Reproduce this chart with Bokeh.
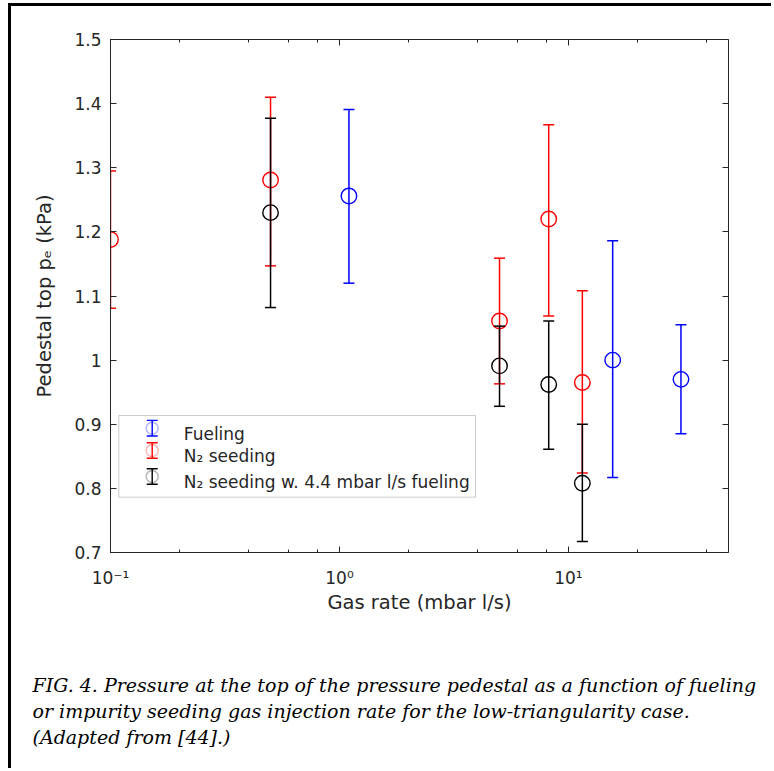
from bokeh.plotting import figure
from bokeh.layouts import column
from bokeh.models import (ColumnDataSource, Whisker, TeeHead, LogAxis, LinearAxis,
                          LogTicker, FixedTicker, CustomJSTickFormatter, Label,
                          BoxAnnotation, Range1d, Title)
from bokeh.embed import file_html
from bokeh.resources import INLINE

# ---------------- data ----------------
fuel_rate = [1.1, 15.6, 31.0]
fuel_pe = [1.256, 1.000, 0.970]
fuel_lo = [1.120, 0.817, 0.885]
fuel_hi = [1.391, 1.186, 1.055]

n2_rate = [0.1, 0.5, 5.0, 8.2, 11.5]
n2_pe = [1.188, 1.281, 1.061, 1.220, 0.965]
n2_lo = [1.081, 1.147, 0.963, 1.069, 0.824]
n2_hi = [1.295, 1.410, 1.159, 1.367, 1.108]

n2f_rate = [0.5, 5.0, 8.2, 11.5]
n2f_pe = [1.230, 0.991, 0.962, 0.808]
n2f_lo = [1.082, 0.928, 0.861, 0.717]
n2f_hi = [1.377, 1.053, 1.061, 0.900]

y_ticks = [0.7, 0.8, 0.9, 1.0, 1.1, 1.2, 1.3, 1.4, 1.5]
series_names = ["Fueling", "N\u2082 seeding", "N\u2082 seeding w. 4.4 mbar l/s fueling"]
series_colors = ["#0000ff", "#ff0000", "#000000"]
x_label = "Gas rate (mbar l/s)"
y_label = "Pedestal top p\u2091 (kPa)"
caption_lines = [
    "FIG. 4. Pressure at the top of the pressure pedestal as a function of fueling",
    "or impurity seeding gas injection rate for the low-triangularity case.",
    "(Adapted from [44].)",
]

AX = "#262626"
FONT = "DejaVu Sans"
OX, OY = 11, 6   # canvas origin offset inside the page (margin + frame border)
P_H = 622        # height of the chart figure
CAP_H = 120      # height of the caption figure

p = figure(width=760, height=P_H, x_axis_type="log",
           x_range=Range1d(0.1, 50), y_range=Range1d(0.7, 1.5),
           output_backend="svg", toolbar_location=None,
           min_border_left=99, min_border_right=43,
           min_border_top=33, min_border_bottom=76)
p.outline_line_color = None
p.xgrid.visible = False
p.ygrid.visible = False
p.background_fill_color = "white"
p.border_fill_color = "white"

xt = LogTicker()
yt = FixedTicker(ticks=y_ticks)

xfmt = CustomJSTickFormatter(code="""
const e = Math.round(Math.log10(tick));
const sup = {'-':'\u207b','0':'\u2070','1':'\u00b9','2':'\u00b2','3':'\u00b3','4':'\u2074','5':'\u2075','6':'\u2076','7':'\u2077','8':'\u2078','9':'\u2079'};
return '10' + String(e).split('').map(c => sup[c]).join('');
""")
yfmt = CustomJSTickFormatter(code="return (Math.round(tick*10)/10).toString();")
blank = CustomJSTickFormatter(code="return '';")


def style_axis(ax):
    ax.axis_line_color = AX
    ax.axis_line_width = 1
    ax.major_tick_line_color = AX
    ax.minor_tick_line_color = AX
    ax.major_tick_in = 6
    ax.major_tick_out = 0
    ax.minor_tick_in = 3
    ax.minor_tick_out = 0
    ax.major_label_text_font = FONT
    ax.major_label_text_font_size = "17px"
    ax.major_label_text_color = AX
    ax.axis_label_text_font = FONT
    ax.axis_label_text_font_size = "19.5px"
    ax.axis_label_text_font_style = "normal"
    ax.axis_label_text_color = AX


xa = p.xaxis[0]
xa.ticker = xt
xa.formatter = xfmt
xa.axis_label = x_label
style_axis(xa)
xa.major_label_standoff = 15
xa.axis_label_standoff = 0

ya = p.yaxis[0]
ya.ticker = yt
ya.formatter = yfmt
ya.axis_label = y_label
style_axis(ya)
ya.major_label_standoff = 9
ya.axis_label_standoff = 15

top = LogAxis(ticker=xt, formatter=blank)
style_axis(top)
top.major_label_standoff = 0
p.add_layout(top, "above")
right = LinearAxis(ticker=yt, formatter=blank)
style_axis(right)
right.major_label_standoff = 0
p.add_layout(right, "right")

# ---------------- series ----------------
for rate, pe, lo, hi, col in [(fuel_rate, fuel_pe, fuel_lo, fuel_hi, series_colors[0]),
                              (n2_rate, n2_pe, n2_lo, n2_hi, series_colors[1]),
                              (n2f_rate, n2f_pe, n2f_lo, n2f_hi, series_colors[2])]:
    src = ColumnDataSource(dict(x=rate, y=pe, lo=lo, hi=hi))
    w = Whisker(source=src, base="x", lower="lo", upper="hi", dimension="height",
                line_color=col, line_width=1.5, level="glyph",
                lower_head=TeeHead(size=11, line_color=col, line_width=1.5),
                upper_head=TeeHead(size=11, line_color=col, line_width=1.5))
    p.add_layout(w)
    p.scatter("x", "y", source=src, marker="circle", size=15.5, fill_color=None,
              line_color=col, line_width=1.4)

# ---------------- legend (canvas px) ----------------
leg_box = BoxAnnotation(left=118.3 - OX, right=475 - OX, top=415 - OY, bottom=496.7 - OY,
                        left_units="canvas", right_units="canvas",
                        top_units="canvas", bottom_units="canvas",
                        fill_color="white", fill_alpha=1.0,
                        line_color="#555555", line_width=1, level="annotation")
p.add_layout(leg_box)
icon_x = 151.7 - OX
icon_cy = [427.7 - OY, 450.0 - OY, 476.0 - OY]
text_base = [433.3 - OY, 455.0 - OY, 481.7 - OY]
for i in range(3):
    col = series_colors[i]
    isrc = ColumnDataSource(dict(b=[icon_x], lo=[icon_cy[i] - 7.8], hi=[icon_cy[i] + 7.8]))
    iw = Whisker(source=isrc, base="b", lower="lo", upper="hi", dimension="height",
                 base_units="canvas", lower_units="canvas", upper_units="canvas",
                 line_color=col, line_width=1.4, level="annotation",
                 lower_head=TeeHead(size=11, line_color=col, line_width=1.4),
                 upper_head=TeeHead(size=11, line_color=col, line_width=1.4))
    p.add_layout(iw)
    circ = BoxAnnotation(left=icon_x - 6, right=icon_x + 6,
                         top=icon_cy[i] - 6, bottom=icon_cy[i] + 6,
                         left_units="canvas", right_units="canvas",
                         top_units="canvas", bottom_units="canvas",
                         fill_color=None, line_color=col, line_width=1.4,
                         border_radius=6, level="annotation")
    p.add_layout(circ)
    p.add_layout(Label(x=183.3 - OX, y=text_base[i], x_units="canvas", y_units="canvas",
                       text=series_names[i], text_font=FONT, text_font_size="17px",
                       text_color=AX, text_baseline="alphabetic", text_align="left"))

# ---------------- caption figure (titles stacked below an empty frame) ----------------
cap = figure(width=760, height=CAP_H, x_range=Range1d(0, 1), y_range=Range1d(0, 1),
             output_backend="svg", toolbar_location=None,
             x_axis_location=None, y_axis_location=None, min_border=0)
cap.outline_line_color = None
cap.xgrid.visible = False
cap.ygrid.visible = False
cap.background_fill_color = "white"
cap.border_fill_color = "white"
for line in caption_lines:
    cap.add_layout(Title(text=line, align="left", offset=31.7 - 109.7, standoff=2,
                         vertical_align="bottom",
                         text_font="DejaVu Serif", text_font_style="italic",
                         text_font_size="19px", text_color="black"), "below")

page = column(p, cap, spacing=0,
              styles={"margin-left": "8px", "margin-top": "3px", "padding-bottom": "20px",
                      "border-left": "3px solid black", "border-top": "3px solid black"})

open("out.html", "w").write(file_html(page, INLINE))
